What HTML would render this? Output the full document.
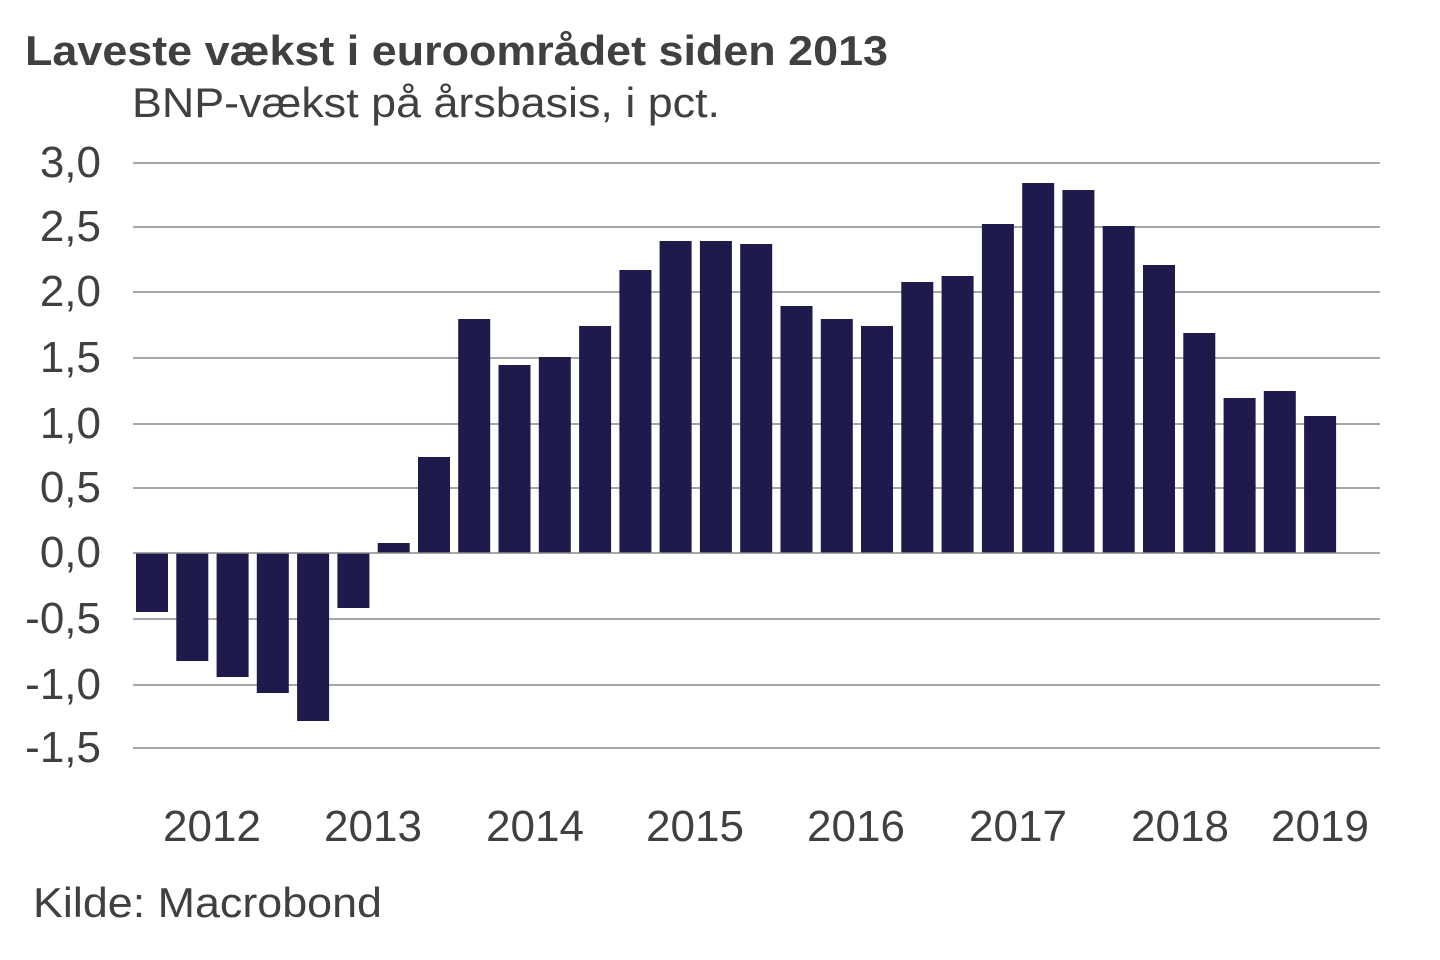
<!DOCTYPE html>
<html><head><meta charset="utf-8"><style>
html,body{margin:0;padding:0;background:#fff}
svg{display:block}
text{font-family:"Liberation Sans",Arial,sans-serif;fill:#404040}
</style></head><body>
<svg width="1440" height="960" viewBox="0 0 1440 960" xmlns="http://www.w3.org/2000/svg">
<text x="25" y="65" font-size="42" font-weight="bold" textLength="863" lengthAdjust="spacingAndGlyphs">Laveste vækst i euroområdet siden 2013</text>
<text x="132" y="117" font-size="42" textLength="588" lengthAdjust="spacingAndGlyphs">BNP-vækst på årsbasis, i pct.</text>
<g stroke="#8a8a8a" stroke-width="1.5">
<line x1="133" x2="1380" y1="163" y2="163"/>
<line x1="133" x2="1380" y1="227" y2="227"/>
<line x1="133" x2="1380" y1="292" y2="292"/>
<line x1="133" x2="1380" y1="358" y2="358"/>
<line x1="133" x2="1380" y1="424" y2="424"/>
<line x1="133" x2="1380" y1="488" y2="488"/>
<line x1="133" x2="1380" y1="619" y2="619"/>
<line x1="133" x2="1380" y1="685" y2="685"/>
<line x1="133" x2="1380" y1="748" y2="748"/>
</g>
<g font-size="44" text-anchor="end">
<text x="101" y="177">3,0</text>
<text x="101" y="241">2,5</text>
<text x="101" y="306">2,0</text>
<text x="101" y="372">1,5</text>
<text x="101" y="438">1,0</text>
<text x="101" y="502">0,5</text>
<text x="101" y="567">0,0</text>
<text x="101" y="633">-0,5</text>
<text x="101" y="699">-1,0</text>
<text x="101" y="762">-1,5</text>
</g>
<g fill="#1e1a4b">
<rect x="136" y="553" width="32" height="59"/>
<rect x="176.3" y="553" width="32" height="108"/>
<rect x="216.6" y="553" width="32" height="124"/>
<rect x="256.8" y="553" width="32" height="140"/>
<rect x="297.1" y="553" width="32" height="168"/>
<rect x="337.4" y="553" width="32" height="55"/>
<rect x="377.7" y="543" width="32" height="10"/>
<rect x="418" y="457" width="32" height="96"/>
<rect x="458.2" y="319" width="32" height="234"/>
<rect x="498.5" y="365" width="32" height="188"/>
<rect x="538.8" y="357" width="32" height="196"/>
<rect x="579.1" y="326" width="32" height="227"/>
<rect x="619.4" y="270" width="32" height="283"/>
<rect x="659.6" y="241" width="32" height="312"/>
<rect x="699.9" y="241" width="32" height="312"/>
<rect x="740.2" y="244" width="32" height="309"/>
<rect x="780.5" y="306" width="32" height="247"/>
<rect x="820.8" y="319" width="32" height="234"/>
<rect x="861" y="326" width="32" height="227"/>
<rect x="901.3" y="282" width="32" height="271"/>
<rect x="941.6" y="276" width="32" height="277"/>
<rect x="981.9" y="224" width="32" height="329"/>
<rect x="1022.2" y="183" width="32" height="370"/>
<rect x="1062.4" y="190" width="32" height="363"/>
<rect x="1102.7" y="226" width="32" height="327"/>
<rect x="1143" y="265" width="32" height="288"/>
<rect x="1183.3" y="333" width="32" height="220"/>
<rect x="1223.6" y="398" width="32" height="155"/>
<rect x="1263.8" y="391" width="32" height="162"/>
<rect x="1304.1" y="416" width="32" height="137"/>
</g>
<line x1="133" x2="1380" y1="553" y2="553" stroke="#8a8a8a" stroke-width="1.5"/>
<g font-size="44" text-anchor="middle">
<text x="212" y="841">2012</text>
<text x="373" y="841">2013</text>
<text x="535" y="841">2014</text>
<text x="695" y="841">2015</text>
<text x="856" y="841">2016</text>
<text x="1018" y="841">2017</text>
<text x="1180" y="841">2018</text>
<text x="1320" y="841">2019</text>
</g>
<text x="33" y="917" font-size="42" textLength="349" lengthAdjust="spacingAndGlyphs">Kilde: Macrobond</text>
</svg>
</body></html>
